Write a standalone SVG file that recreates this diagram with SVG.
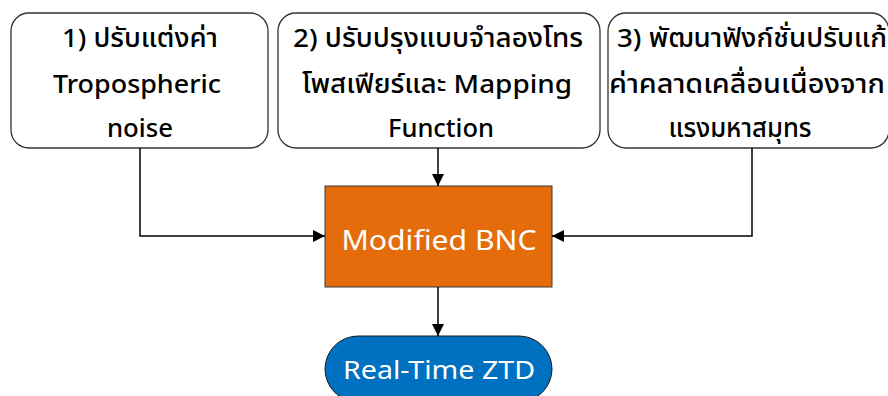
<svg xmlns="http://www.w3.org/2000/svg" width="888" height="396" viewBox="0 0 888 396">
  <style>
    .step { fill: #ffffff; stroke: #333333; stroke-width: 1.3; }
    .label { font-family: "Noto Sans", "Noto Sans Thai", "Liberation Sans", sans-serif; font-size: 26px; font-weight: 500; fill: #000000; text-anchor: middle; }
    .inner { font-family: "Noto Sans", "Liberation Sans", sans-serif; font-size: 28px; font-weight: 400; fill: #ffffff; text-anchor: middle; }
    .wire { fill: none; stroke: #000000; stroke-width: 1.5; }
  </style>
  <defs>
    <marker id="arrow" viewBox="0 0 12 12" refX="12" refY="6" markerWidth="12" markerHeight="12" markerUnits="userSpaceOnUse" orient="auto">
      <path d="M0,0 L12,6 L0,12 Z" fill="#000000"/>
    </marker>
  </defs>
  <rect width="888" height="396" fill="#ffffff"/>

  <!-- input steps -->
  <g id="step1">
    <rect class="step" x="11" y="13" width="257" height="135" rx="18"/>
    <text class="label" x="140" y="47" textLength="156" lengthAdjust="spacingAndGlyphs">1) ปรับแต่งค่า</text>
    <text class="label" x="137" y="93" textLength="168" lengthAdjust="spacingAndGlyphs">Tropospheric</text>
    <text class="label" x="140" y="137" textLength="66" lengthAdjust="spacingAndGlyphs">noise</text>
  </g>
  <g id="step2">
    <rect class="step" x="278" y="13" width="322" height="135" rx="18"/>
    <text class="label" x="438" y="47" textLength="290" lengthAdjust="spacingAndGlyphs">2) ปรับปรุงแบบจำลองโทร</text>
    <text class="label" x="437" y="93" textLength="270" lengthAdjust="spacingAndGlyphs">โพสเฟียร์และ Mapping</text>
    <text class="label" x="441" y="137" textLength="106" lengthAdjust="spacingAndGlyphs">Function</text>
  </g>
  <g id="step3">
    <rect class="step" x="608" y="13" width="281" height="135" rx="18"/>
    <text class="label" x="752" y="47" textLength="270" lengthAdjust="spacingAndGlyphs">3) พัฒนาฟังก์ชั่นปรับแก้</text>
    <text class="label" x="747" y="93" textLength="276" lengthAdjust="spacingAndGlyphs">ค่าคลาดเคลื่อนเนื่องจาก</text>
    <text class="label" x="740" y="137" textLength="143" lengthAdjust="spacingAndGlyphs">แรงมหาสมุทร</text>
  </g>

  <!-- processing -->
  <g id="bnc">
    <rect x="325" y="186" width="227" height="101" fill="#E46C0A" stroke="#3a3a3a" stroke-width="1"/>
    <text class="inner" x="439" y="250" textLength="195" lengthAdjust="spacingAndGlyphs">Modified BNC</text>
  </g>

  <!-- output -->
  <g id="ztd">
    <rect x="325" y="336" width="227" height="66" rx="33" fill="#0070C0" stroke="#1a1a1a" stroke-width="1"/>
    <text class="inner" x="439" y="379" style="font-size:26px" textLength="192" lengthAdjust="spacingAndGlyphs">Real-Time ZTD</text>
  </g>

  <!-- connectors -->
  <g id="connectors">
    <polyline class="wire" points="140,148 140,236 325,236" marker-end="url(#arrow)"/>
    <line class="wire" x1="438" y1="148" x2="438" y2="186" marker-end="url(#arrow)"/>
    <polyline class="wire" points="752,148 752,236 552,236" marker-end="url(#arrow)"/>
    <line class="wire" x1="438" y1="287" x2="438" y2="336" marker-end="url(#arrow)"/>
  </g>
</svg>
